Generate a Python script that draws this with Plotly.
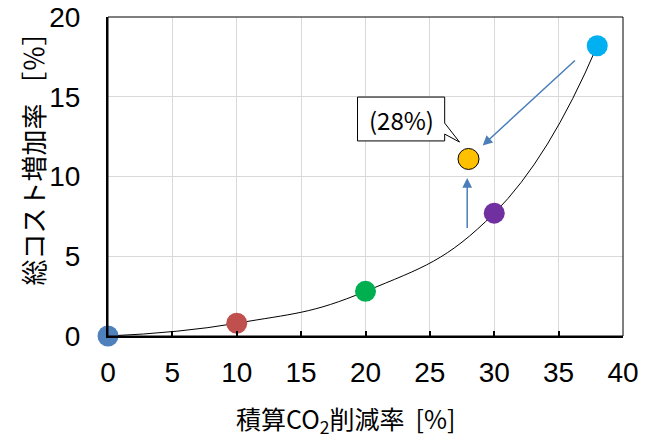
import plotly.graph_objects as go

# Cumulative CO2 reduction [%] vs. total cost increase [%]
reduction = [0, 10, 20, 30, 38]
cost_increase = [0, 0.8, 2.8, 7.7, 18.2]
point_colors = ["#4F81BD", "#C0504D", "#00B050", "#7030A0", "#00B0F0"]

# Highlighted case (28% reduction)
hl_reduction = [28]
hl_cost = [11.1]
hl_label = "(28%)"

x_ticks = [0, 5, 10, 15, 20, 25, 30, 35, 40]
y_ticks = [0, 5, 10, 15, 20]

x_title = "積算CO<sub>2</sub>削減率  [%]"
y_title = "総コスト増加率 ［％］"

num_font = "Liberation Sans, Arial, sans-serif"
jp_font = "Noto Sans CJK JP"

fig = go.Figure()

# trade-off curve
fig.add_trace(go.Scatter(
    x=reduction, y=cost_increase, mode="lines",
    line=dict(color="black", width=1, shape="spline", smoothing=1.3),
    hoverinfo="skip", showlegend=False, cliponaxis=False,
))

# scenario markers
fig.add_trace(go.Scatter(
    x=reduction, y=cost_increase, mode="markers",
    marker=dict(size=21, color=point_colors, line=dict(width=0)),
    showlegend=False, cliponaxis=False,
))

fig.add_trace(go.Scatter(
    x=hl_reduction, y=hl_cost, mode="markers",
    marker=dict(size=21, color="#FFC000", line=dict(color="black", width=1)),
    showlegend=False, cliponaxis=False,
))

arrow_color = "#4A7EBB"
# arrow from the 38% case toward the highlighted case
fig.add_annotation(
    x=29.1, y=11.95, ax=36.5, ay=17.45, xref="x", yref="y", axref="x", ayref="y",
    showarrow=True, arrowhead=2, arrowsize=1.3, arrowwidth=1.5, arrowcolor=arrow_color, text=" ",
)
# arrow up from the curve to the highlighted case
fig.add_annotation(
    x=27.9, y=9.9, ax=27.9, ay=6.15, xref="x", yref="y", axref="x", ayref="y",
    showarrow=True, arrowhead=2, arrowsize=1.3, arrowwidth=1.5, arrowcolor=arrow_color, text=" ",
)

# callout box with pointer
bx0, bx1, by0, by1 = 19.38, 26.15, 12.23, 14.98
tip_x, tip_y = 27.3, 12.16
wa, wb = 13.35, 12.66
path = (f"M {bx0},{by1} L {bx1},{by1} L {bx1},{wa} L {tip_x},{tip_y} "
        f"L {bx1},{wb} L {bx1},{by0} L {bx0},{by0} Z")
fig.add_shape(type="path", path=path, xref="x", yref="y",
              line=dict(color="black", width=1), fillcolor="white", layer="above")
fig.add_annotation(
    x=(bx0 + bx1) / 2, y=(by0 + by1) / 2, xref="x", yref="y", text=hl_label,
    showarrow=False, font=dict(family=jp_font, size=24, color="black"),
)

# thin frame on top / right
fig.add_shape(type="rect", xref="paper", yref="paper", x0=0, x1=1, y0=0, y1=1,
              line=dict(color="black", width=1), layer="above")

# axis titles
fig.add_annotation(
    x=0.463, y=-0.263, xref="paper", yref="paper", text=x_title, showarrow=False,
    font=dict(family=jp_font, size=25, color="black"), xanchor="center", yanchor="middle",
)
fig.add_annotation(
    x=-0.146, y=0.575, xref="paper", yref="paper", text=y_title, showarrow=False,
    textangle=-90, font=dict(family=jp_font, size=26, color="black"),
    xanchor="center", yanchor="middle",
)

fig.update_layout(
    width=650, height=438,
    margin=dict(l=108, r=27, t=17, b=102),
    paper_bgcolor="white", plot_bgcolor="white",
    font=dict(family=jp_font, color="black"),
    xaxis=dict(
        range=[0, 40], tickvals=x_ticks, showgrid=True, gridcolor="#D9D9D9", gridwidth=1,
        zeroline=False, showline=True, linecolor="black", linewidth=2,
        ticks="inside", ticklen=5, tickwidth=1.5, tickcolor="black",
        tickfont=dict(family=num_font, size=28, color="black"), ticklabelstandoff=10,
        automargin=False, ticklabeloverflow="allow",
    ),
    yaxis=dict(
        range=[0, 20], tickvals=y_ticks, showgrid=True, gridcolor="#D9D9D9", gridwidth=1,
        zeroline=False, showline=True, linecolor="black", linewidth=2,
        ticks="", tickfont=dict(family=num_font, size=28, color="black"), ticklabelstandoff=20,
        automargin=False, ticklabeloverflow="allow",
    ),
)

fig.write_html("out.html")
